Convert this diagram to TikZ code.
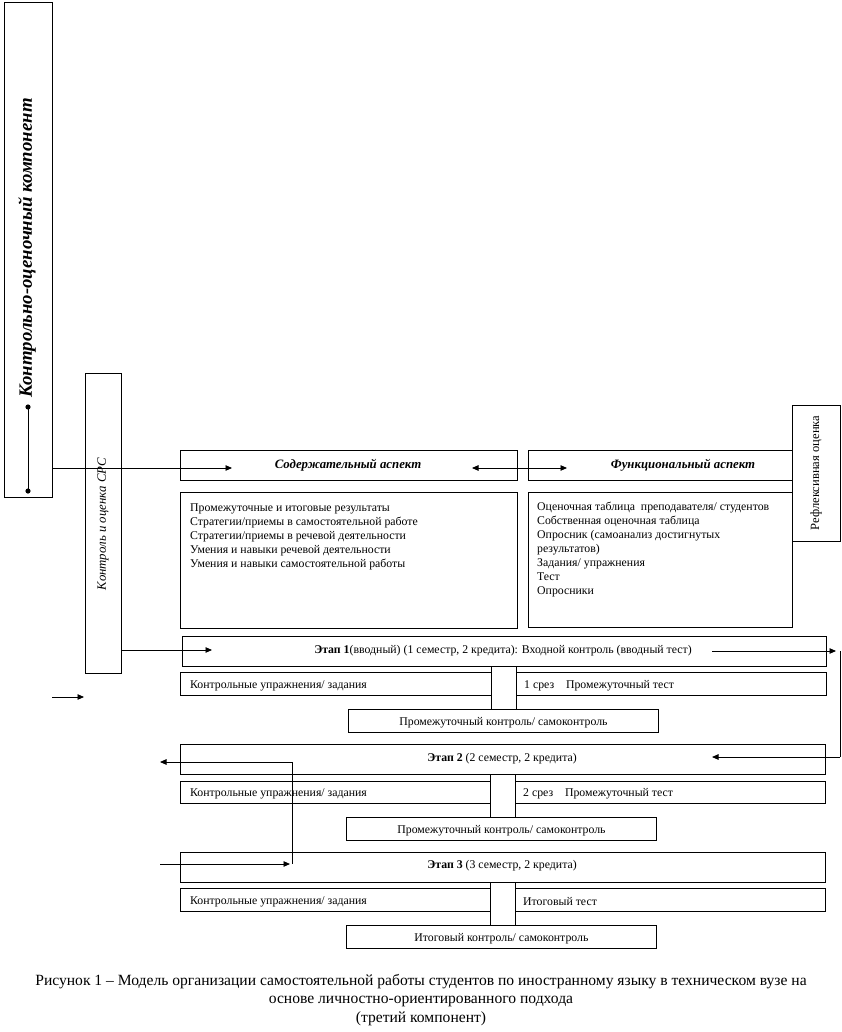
\documentclass[tikz,border=0pt]{standalone}
\usepackage{fontspec}
\setmainfont{Liberation Serif}
\usetikzlibrary{arrows.meta}
\begin{document}
\begin{tikzpicture}[x=1pt,y=-1pt,
  box/.style={draw, line width=0.9pt, inner sep=0pt, anchor=north west},
  conn/.style={line width=0.9pt},
  arr/.style={conn, -{Triangle[length=6.5pt,width=5.5pt]}},
  darr/.style={conn, {Triangle[length=6.5pt,width=5.5pt]}-{Triangle[length=6.5pt,width=5.5pt]}},
  txt/.style={font=\fontsize{11.8}{14}\selectfont, inner sep=0pt, yshift=-1.5pt},
  ltxt/.style={txt, anchor=west},
  head/.style={font=\fontsize{12.8}{14}\selectfont\bfseries\itshape, inner sep=0pt, yshift=-0.5pt}]
\useasboundingbox (0,0) rectangle (842,1032);

% left big box
\node[box, minimum width=48, minimum height=495] (big) at (4,2) {};
\node[rotate=90, font=\fontsize{18.8}{20}\selectfont\bfseries\itshape, inner sep=0pt] (title) at (27,248) {Контрольно-оценочный компонент};
\coordinate (d1) at (28,407);
\coordinate (d2) at (28,491);
\draw[conn] (d1) -- (d2);
\fill (d1) circle (2.6);
\fill (d2) circle (2.6);

% SRS box
\node[box, minimum width=36, minimum height=300] (srs) at (85,373) {};
\node[rotate=90, inner sep=0pt, font=\fontsize{12.8}{14}\selectfont\itshape] (srst) at (103,524) {Контроль и оценка СРС};

% headers
\node[box, minimum width=337, minimum height=30] (h1) at (180,450) {};
\node[head] (h1t) at (348,465) {Содержательный аспект};
\node[box, minimum width=264, minimum height=30] (h2) at (528,450) {};
\node[head] (h2t) at (683,465) {Функциональный аспект};

\coordinate (a1) at (232,468);
\draw[arr] (big.east |- a1) -- (a1);
\coordinate (b1) at (472,468);
\coordinate (b2) at (567,468);
\draw[darr] (b1) -- (b2);

% content boxes
\node[box, minimum width=337, minimum height=136] (c1) at (180,492) {};
\node[txt, anchor=north west, align=left] (c1t) at (190,502) {Промежуточные и итоговые результаты\\Стратегии/приемы в самостоятельной работе\\Стратегии/приемы в речевой деятельности\\Умения и навыки речевой деятельности\\Умения и навыки самостоятельной работы};
\node[box, minimum width=264, minimum height=135] (c2) at (528,492) {};
\node[txt, anchor=north west, align=left] (c2t) at (537,500) {Оценочная таблица\ \ преподавателя/ студентов\\Собственная оценочная таблица\\Опросник (самоанализ достигнутых\\результатов)\\Задания/ упражнения\\Тест\\Опросники};

% reflexive
\node[box, minimum width=48, minimum height=136] (refl) at (792,405) {};
\node[rotate=90, inner sep=0pt, font=\fontsize{12.6}{14}\selectfont] (reflt) at (816,473) {Рефлексивная оценка};

% stage 1
\node[box, minimum width=644, minimum height=30] (s1) at (182,636) {};
\node[txt] (s1t) at (503,649) {\textbf{Этап 1}(вводный) (1 семестр, 2 кредита): Входной контроль (вводный тест)};
\coordinate (a2) at (212,650);
\draw[arr] (srs.east |- a2) -- (a2);
\coordinate (r1s) at (712,651);
\coordinate (r1t) at (836,651);
\draw[arr] (r1s) -- (r1t);
\coordinate (rc1) at (840,651);
\coordinate (rc2) at (840,757);
\coordinate (r2t) at (712,757);
\draw[conn] (rc1) -- (rc2);
\draw[arr] (rc2) -- (r2t);

\node[box, minimum width=311, minimum height=23] (k1) at (180,672) {};
\node[ltxt] (k1t) at (190,684) {Контрольные упражнения/ задания};
\node[box, minimum width=310, minimum height=23] (t1) at (516,672) {};
\node[ltxt] (t1t) at (524,684) {1 срез\ \ \ \ Промежуточный тест};
\node[box, minimum width=310, minimum height=23] (p1) at (348,709) {};
\node[txt] (p1t) at (p1.center) {Промежуточный контроль/ самоконтроль};
\draw[conn] (k1.east |- s1.south) -- (k1.east |- p1.north);
\draw[conn] (t1.west |- s1.south) -- (t1.west |- p1.north);

\coordinate (l1s) at (52,697);
\coordinate (l1t) at (84,697);
\draw[arr] (l1s) -- (l1t);

% stage 2
\node[box, minimum width=645, minimum height=30] (s2) at (180,744) {};
\node[txt] (s2t) at (502,757) {\textbf{Этап 2} (2 семестр, 2 кредита)};
\coordinate (la1) at (292,762);
\coordinate (la2) at (160,762);
\coordinate (la3) at (292,864);
\coordinate (la4) at (160,864);
\coordinate (la5) at (290,864);
\draw[arr] (la1) -- (la2);
\draw[conn] (la1) -- (la3);
\draw[arr] (la4) -- (la5);

\node[box, minimum width=310, minimum height=22] (k2) at (180,781) {};
\node[ltxt] (k2t) at (190,792) {Контрольные упражнения/ задания};
\node[box, minimum width=310, minimum height=22] (t2) at (515,781) {};
\node[ltxt] (t2t) at (523,792) {2 срез\ \ \ \ Промежуточный тест};
\node[box, minimum width=310, minimum height=23] (p2) at (346,817) {};
\node[txt] (p2t) at (p2.center) {Промежуточный контроль/ самоконтроль};
\draw[conn] (k2.east |- s2.south) -- (k2.east |- p2.north);
\draw[conn] (t2.west |- s2.south) -- (t2.west |- p2.north);

% stage 3
\node[box, minimum width=645, minimum height=30] (s3) at (180,852) {};
\node[txt] (s3t) at (502,864) {\textbf{Этап 3} (3 семестр, 2 кредита)};
\node[box, minimum width=310, minimum height=23] (k3) at (180,888) {};
\node[ltxt] (k3t) at (190,900) {Контрольные упражнения/ задания};
\node[box, minimum width=310, minimum height=23] (t3) at (515,888) {};
\node[ltxt] (t3t) at (523,900) {Итоговый тест};
\node[box, minimum width=310, minimum height=23] (p3) at (346,925) {};
\node[txt] (p3t) at (p3.center) {Итоговый контроль/ самоконтроль};
\draw[conn] (k3.east |- s3.south) -- (k3.east |- p3.north);
\draw[conn] (t3.west |- s3.south) -- (t3.west |- p3.north);

% caption
\node[inner sep=0pt, align=center, font=\fontsize{15.6}{18.5}\selectfont] (cap) at (421,1000) {Рисунок 1 – Модель организации самостоятельной работы студентов по иностранному языку в техническом вузе на\\основе личностно-ориентированного подхода\\(третий компонент)};
\end{tikzpicture}
\end{document}
